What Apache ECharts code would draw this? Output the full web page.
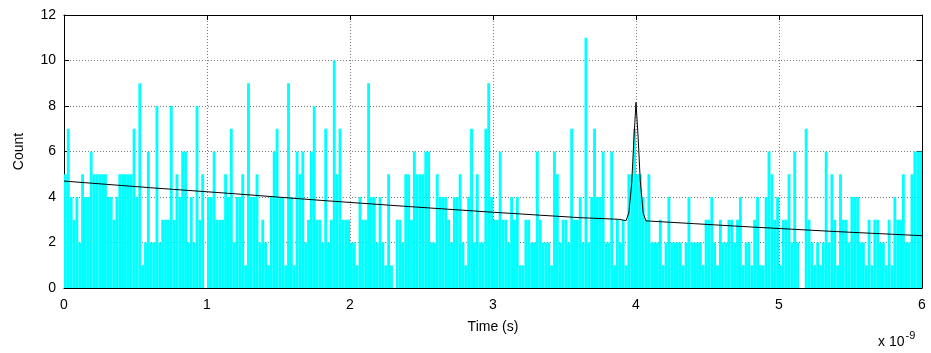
<!DOCTYPE html>
<html>
<head>
<meta charset="utf-8">
<script src="https://cdn.jsdelivr.net/npm/echarts@6/dist/echarts.min.js"></script>
<style>
  html, body { margin: 0; padding: 0; background: #fff; }
  #chart { width: 931px; height: 353px; }
</style>
</head>
<body>
<div id="chart"></div>
<script>
// Histogram of photon arrival times: 300 bins over 0–6 ns (axis in units of 1e-9 s)
const timeMin = 0;
const timeMax = 6;
const xTicks = [0, 1, 2, 3, 4, 5, 6];
const yTicks = [0, 2, 4, 6, 8, 10, 12];

// Counts per bin, grouped in 60-bin stretches
const counts0 = [5,7,4,3,4,2,5,4,4,6, 5,5,5,5,5,4,4,3,4,5, 5,5,5,5,7,4,9,1,2,6,
                 2,2,8,2,3,3,3,8,3,5, 4,6,6,2,4,2,8,3,5,0, 4,4,6,3,3,3,5,4,7,2];
const counts1 = [4,4,5,1,9,4,4,5,2,3, 2,1,4,6,7,4,4,1,9,4, 1,6,5,6,2,3,6,8,3,3,
                 2,7,2,3,10,5,7,3,3,3, 2,2,1,4,3,3,9,4,4,2, 4,2,1,5,1,0,3,3,2,5];
const counts2 = [5,3,6,5,5,5,6,6,2,2, 5,4,4,4,3,2,4,4,5,2, 1,4,7,2,5,2,2,7,9,4,
                 3,3,6,3,3,2,4,3,4,1, 1,3,3,2,2,6,3,2,2,2, 1,6,5,2,3,3,2,7,3,3];
const counts3 = [4,2,11,2,4,7,4,4,6,2, 2,6,1,3,2,3,1,5,5,7, 5,5,4,3,5,2,2,2,3,1,
                 2,4,2,2,2,2,1,2,4,2, 2,2,2,1,3,3,4,2,1,3, 2,2,3,3,2,3,4,1,2,2];
const counts4 = [1,3,4,1,1,4,6,5,3,4, 1,3,3,5,2,6,2,0,0,7, 3,2,1,2,1,2,6,2,5,3,
                 1,5,3,3,2,4,4,4,2,2, 1,3,1,3,3,2,2,1,3,1, 4,3,3,5,2,2,5,6,6,6];

// Fitted curve: decaying background with a narrow peak near 4 ns
const fitTime  = [0, 0.6, 1.2, 1.8, 2.41, 3.0, 3.61, 3.88, 3.93, 3.95, 3.97, 3.985, 4.0, 4.015, 4.03, 4.05, 4.07, 4.4, 4.81, 5.4, 6.0];
const fitCount = [4.70, 4.41, 4.14, 3.85, 3.58, 3.33, 3.09, 3.02, 2.96, 3.3, 4.6, 6.5, 8.16, 6.6, 4.7, 3.3, 2.95, 2.83, 2.68, 2.48, 2.30];

const allCounts = counts0.concat(counts1, counts2, counts3, counts4);
const binWidth = (timeMax - timeMin) / allCounts.length;
const histData = allCounts.map((c, i) => [timeMin + i * binWidth, timeMin + (i + 1) * binWidth, c]);
const fitData = fitTime.map((t, i) => [t, fitCount[i]]);

const font = 'Liberation Sans, Arial, sans-serif';
const gridLine = { show: true, lineStyle: { color: '#7a7a7a', type: [1, 2], width: 1 } };

const chart = echarts.init(document.getElementById('chart'), null, { renderer: 'canvas' });
chart.setOption({
  animation: false,
  grid: { left: 64, right: 9, top: 15, bottom: 65, show: false },
  xAxis: [{
    type: 'value', min: timeMin, max: timeMax, interval: 1,
    name: 'Time (s)', nameLocation: 'middle', nameGap: 32,
    nameTextStyle: { fontFamily: font, fontSize: 14, color: '#000' },
    axisLine: { show: true, onZero: false, lineStyle: { color: '#000', width: 1 } },
    axisTick: { show: true, inside: true, length: 5, lineStyle: { color: '#000' } },
    axisLabel: { fontFamily: font, fontSize: 14, color: '#000', margin: 10,
                 formatter: v => xTicks.includes(v) ? String(v) : '' },
    splitLine: gridLine
  }, {
    type: 'value', min: timeMin, max: timeMax, interval: 1, position: 'top',
    axisLine: { show: true, onZero: false, lineStyle: { color: '#000', width: 1 } },
    axisTick: { show: true, inside: true, length: 5, lineStyle: { color: '#000' } },
    axisLabel: { show: false }, splitLine: { show: false }
  }],
  yAxis: [{
    type: 'value', min: 0, max: 12, interval: 2,
    name: 'Count', nameLocation: 'middle', nameGap: 38, nameRotate: 90,
    nameTextStyle: { fontFamily: font, fontSize: 14, color: '#000' },
    axisLine: { show: true, onZero: false, lineStyle: { color: '#000', width: 1 } },
    axisTick: { show: true, inside: true, length: 5, lineStyle: { color: '#000' } },
    axisLabel: { fontFamily: font, fontSize: 14, color: '#000', margin: 8,
                 formatter: v => yTicks.includes(v) ? String(v) : '' },
    splitLine: gridLine
  }, {
    type: 'value', min: 0, max: 12, interval: 2, position: 'right',
    axisLine: { show: true, onZero: false, lineStyle: { color: '#000', width: 1 } },
    axisTick: { show: true, inside: true, length: 5, lineStyle: { color: '#000' } },
    axisLabel: { show: false }, splitLine: { show: false }
  }],
  series: [{
    type: 'custom',
    xAxisIndex: 0, yAxisIndex: 0,
    clip: true,
    data: histData,
    encode: { x: [0, 1], y: 2 },
    renderItem: function (params, api) {
      const v = api.value(2);
      if (!v) return null;
      const top = api.coord([api.value(0), v]);
      const bottom = api.coord([api.value(1), 0]);
      return {
        type: 'rect',
        shape: { x: top[0], y: top[1], width: bottom[0] - top[0], height: bottom[1] - top[1] },
        style: { fill: '#00ffff' }
      };
    },
    z: 2
  }, {
    type: 'line',
    xAxisIndex: 0, yAxisIndex: 0,
    data: fitData,
    showSymbol: false, symbol: 'none',
    lineStyle: { color: '#000', width: 1 },
    z: 3
  }],
  graphic: [{
    type: 'text', left: 878, top: 330,
    style: {
      text: '{b|x 10}{s|-9}',
      rich: {
        b: { fontFamily: font, fontSize: 14, fill: '#000', verticalAlign: 'bottom', lineHeight: 18 },
        s: { fontFamily: font, fontSize: 11, fill: '#000', verticalAlign: 'top', padding: [0, 0, 8, 1] }
      }
    }
  }]
});
</script>
</body>
</html>
